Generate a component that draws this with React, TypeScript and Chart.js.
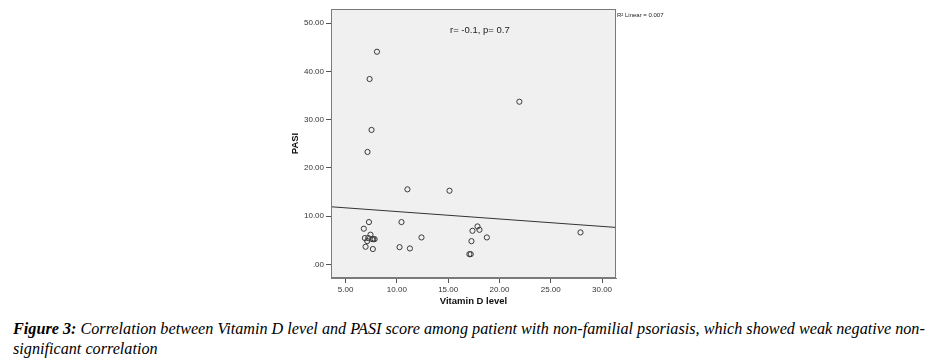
import React, { useEffect, useRef } from "react";
import { Chart, registerables } from "chart.js";

Chart.register(...registerables);

// ---- data ----
const VITAMIN_D = [8.06, 7.34, 7.53, 21.94, 7.14, 11.03, 15.13, 7.28, 6.78, 10.45, 7.43, 6.88, 7.21, 7.6, 7.7, 7.83, 7.11, 6.95, 7.66, 10.26, 11.27, 12.4, 17.07, 17.2, 17.27, 17.37, 17.86, 18.05, 18.77, 27.9];
const PASI = [44.05, 38.4, 27.86, 33.7, 23.3, 15.56, 15.27, 8.78, 7.41, 8.78, 6.17, 5.47, 5.47, 5.25, 5.25, 5.25, 4.85, 3.67, 3.2, 3.59, 3.32, 5.6, 2.14, 2.14, 4.83, 6.97, 7.88, 7.18, 5.6, 6.64];

const X_TICKS = [5, 10, 15, 20, 25, 30];
const X_TICK_LABELS = ["5.00", "10.00", "15.00", "20.00", "25.00", "30.00"];
const Y_TICKS = [0, 10, 20, 30, 40, 50];
const Y_TICK_LABELS = [".00", "10.00", "20.00", "30.00", "40.00", "50.00"];

const X_MIN = 3.58;
const X_MAX = 31.36;
const Y_MIN = -2.8;
const Y_MAX = 52.9;

const FIT_INTERCEPT = 12.5;
const FIT_SLOPE = -0.154;

const X_TITLE = "Vitamin D level";
const Y_TITLE = "PASI";
const STAT_TEXT = "r= -0.1, p= 0.7";
const R2_TEXT = "R\u00B2 Linear = 0.007";

const SANS = "'Liberation Sans', Arial, sans-serif";

const plotDeco = {
  id: "plotDeco",
  beforeDraw(chart: any) {
    const { ctx, chartArea: a } = chart;
    ctx.save();
    ctx.fillStyle = "#f0f0f0";
    ctx.fillRect(a.left, a.top, a.right - a.left, a.bottom - a.top);
    ctx.restore();
  },
  afterDraw(chart: any) {
    const { ctx, chartArea: a } = chart;
    ctx.save();
    ctx.strokeStyle = "#7a7a7a";
    ctx.lineWidth = 1;
    ctx.strokeRect(Math.round(a.left) + 0.5, Math.round(a.top) + 0.5, Math.round(a.right - a.left) - 1, Math.round(a.bottom - a.top) - 1);
    ctx.fillStyle = "#222";
    ctx.font = `9.5px ${SANS}`;
    ctx.textBaseline = "middle";
    ctx.fillText(STAT_TEXT, 450, 30);
    ctx.font = `6px ${SANS}`;
    ctx.fillText(R2_TEXT, a.right + 1, 15);
    ctx.restore();
  },
};

export default function App() {
  const ref = useRef<HTMLCanvasElement>(null);

  useEffect(() => {
    if (!ref.current) return;
    const points = VITAMIN_D.map((x, i) => ({ x, y: PASI[i] }));
    const fit = [X_MIN, X_MAX].map((x) => ({ x, y: FIT_INTERCEPT + FIT_SLOPE * x }));
    const chart = new Chart(ref.current, {
      type: "scatter",
      data: {
        datasets: [
          {
            type: "line",
            data: fit,
            borderColor: "#333",
            borderWidth: 1,
            pointRadius: 0,
            fill: false,
          } as any,
          {
            data: points,
            pointStyle: "circle",
            pointRadius: 2.6,
            pointBorderWidth: 1,
            pointBorderColor: "#3a3a3a",
            pointBackgroundColor: "rgba(0,0,0,0)",
          } as any,
        ],
      },
      options: {
        responsive: false,
        animation: false,
        devicePixelRatio: 1,
        layout: { padding: { left: 281, right: 334, top: 9, bottom: 0 } },
        plugins: { legend: { display: false }, tooltip: { enabled: false } },
        scales: {
          x: {
            type: "linear",
            min: X_MIN,
            max: X_MAX,
            afterBuildTicks: (s: any) => {
              s.ticks = X_TICKS.map((v) => ({ value: v }));
            },
            afterFit: (s: any) => {
              s.height = 32;
            },
            ticks: {
              font: { family: SANS, size: 8 },
              color: "#333",
              padding: 2,
              maxRotation: 0,
              callback: (v: any) => {
                const i = X_TICKS.indexOf(Number(v));
                return i >= 0 ? X_TICK_LABELS[i] : "";
              },
            },
            grid: { drawOnChartArea: false, drawTicks: true, tickLength: 5, color: "#555" },
            border: { display: true, color: "#7a7a7a" },
            title: {
              display: true,
              text: X_TITLE,
              font: { family: SANS, size: 9.5, weight: "bold" },
              color: "#111",
              padding: { top: 0, bottom: 3 },
            },
          },
          y: {
            type: "linear",
            min: Y_MIN,
            max: Y_MAX,
            afterBuildTicks: (s: any) => {
              s.ticks = Y_TICKS.map((v) => ({ value: v }));
            },
            afterFit: (s: any) => {
              s.width = 50;
            },
            ticks: {
              font: { family: SANS, size: 8 },
              color: "#333",
              padding: 2,
              callback: (v: any) => {
                const i = Y_TICKS.indexOf(Number(v));
                return i >= 0 ? Y_TICK_LABELS[i] : "";
              },
            },
            grid: { drawOnChartArea: false, drawTicks: true, tickLength: 5, color: "#555" },
            border: { display: true, color: "#7a7a7a" },
            title: {
              display: true,
              text: Y_TITLE,
              font: { family: SANS, size: 9.5, weight: "bold" },
              color: "#111",
              padding: { top: 9, bottom: 0 },
            },
          },
        },
      },
      plugins: [plotDeco],
    });
    return () => chart.destroy();
  }, []);

  return (
    <div style={{ position: "absolute", left: 0, top: 0, width: 950, height: 364, background: "#fff", overflow: "hidden" }}>
      <canvas ref={ref} width={950} height={310} style={{ position: "absolute", left: 0, top: 0, width: 950, height: 310 }} />
      <div
        style={{
          position: "absolute",
          left: 13,
          top: 319,
          width: 937,
          fontFamily: "'Liberation Serif', 'Times New Roman', serif",
          fontStyle: "italic",
          fontSize: 16.2,
          lineHeight: "20px",
          color: "#000",
          whiteSpace: "nowrap",
        }}
      >
        <b>Figure 3:</b> Correlation between Vitamin D level and PASI score among patient with non-familial psoriasis, which showed weak negative non-
        <br />
        significant correlation
      </div>
    </div>
  );
}
